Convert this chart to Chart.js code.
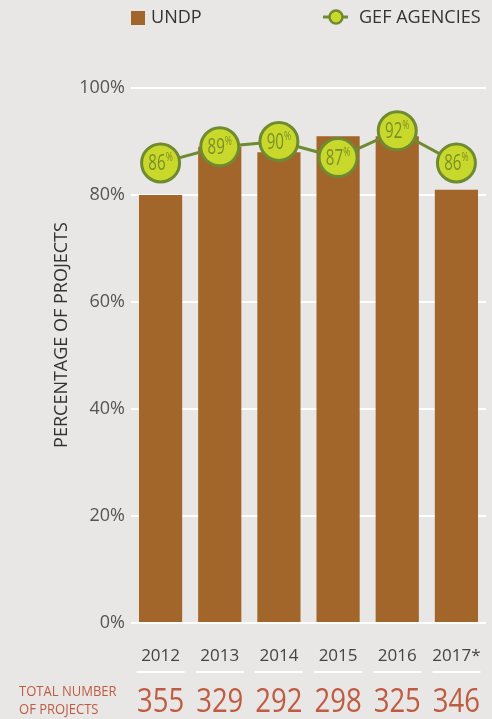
<!DOCTYPE html>
<html>
<head>
<meta charset="utf-8">
<script src="https://cdn.jsdelivr.net/npm/chart.js@4"></script>
<style>
  html, body { margin: 0; padding: 0; background: #e8e7e6; overflow: hidden; }
  #wrap { width: 492px; height: 719px; position: relative; }
  canvas { display: block; }
</style>
</head>
<body>
<div id="wrap"><canvas id="myChart"></canvas></div>
<script>
// Data

const years = ["2012", "2013", "2014", "2015", "2016", "2017*"];
const undpShare = [80, 89, 88, 91, 91, 81];
const gefShare = [86, 89, 90, 87, 92, 86];
const totalProjects = [355, 329, 292, 298, 325, 346];

const FONT = "'Open Sans', 'Noto Sans', sans-serif";
const BROWN = "#a2662a";
const LIME = "#c9d92b";
const OLIVE = "#6f8a30";
const RUST = "#bf5b40";

// draw text squeezed horizontally (the source face is narrower than Open Sans)
function narrowText(ctx, txt, x, y, sx) {
    ctx.save();
    ctx.translate(x, y);
    ctx.scale(sx, 1);
    ctx.fillText(txt, 0, 0);
    ctx.restore();
}

// Legend, axis title, bubble labels and the totals row

const extras = {
    id: "extras",
    afterDatasetsDraw(chart) {
        const ctx = chart.ctx;
        const meta = chart.getDatasetMeta(1);
        ctx.save();
        meta.data.forEach((pt, i) => {
            const txt = String(gefShare[i]);
            ctx.save();
            ctx.translate(pt.x, pt.y);
            ctx.scale(0.72, 1);
            ctx.fillStyle = "#7c8f27";
            ctx.font = `21px ${FONT}`;
            ctx.textBaseline = "alphabetic";
            ctx.textAlign = "left";
            const w = ctx.measureText(txt).width;
            ctx.font = `12px ${FONT}`;
            const pw = ctx.measureText("%").width;
            const x0 = -(w + pw) / 2;
            ctx.font = `21px ${FONT}`;
            ctx.fillText(txt, x0, 7.5);
            ctx.font = `12px ${FONT}`;
            ctx.fillText("%", x0 + w, -2);
            ctx.restore();
        });
        ctx.restore();
    },
    afterDraw(chart) {
        const ctx = chart.ctx;
        const x = chart.scales.x;
        ctx.save();

        // legend
        ctx.fillStyle = BROWN;
        ctx.fillRect(131, 11, 14, 14);
        ctx.fillStyle = "#333";
        ctx.font = `19px ${FONT}`;
        ctx.textBaseline = "middle";
        ctx.textAlign = "left";
        narrowText(ctx, "UNDP", 151, 18, 0.95);
        ctx.strokeStyle = OLIVE;
        ctx.lineWidth = 3;
        ctx.beginPath();
        ctx.moveTo(323, 17);
        ctx.lineTo(348, 17);
        ctx.stroke();
        ctx.beginPath();
        ctx.arc(336, 17, 6.5, 0, Math.PI * 2);
        ctx.fillStyle = LIME;
        ctx.fill();
        ctx.lineWidth = 2.5;
        ctx.stroke();
        ctx.fillStyle = "#333";
        narrowText(ctx, "GEF AGENCIES", 359, 18, 0.95);

        // y axis title
        ctx.save();
        ctx.translate(62, 335);
        ctx.rotate(-Math.PI / 2);
        ctx.textAlign = "center";
        ctx.fillStyle = "#333";
        ctx.font = `18px ${FONT}`;
        ctx.fillText("PERCENTAGE OF PROJECTS", 0, 0);
        ctx.restore();

        // separators under the year labels and the totals row
        ctx.strokeStyle = "#ffffff";
        ctx.lineWidth = 2;
        years.forEach((y, i) => {
            const cx = x.getPixelForValue(i);
            ctx.beginPath();
            ctx.moveTo(cx - 24, 672);
            ctx.lineTo(cx + 24, 672);
            ctx.stroke();
        });

        ctx.fillStyle = RUST;
        ctx.textBaseline = "alphabetic";
        ctx.textAlign = "left";
        ctx.font = `14px ${FONT}`;
        narrowText(ctx, "TOTAL NUMBER", 19, 696, 0.93);
        narrowText(ctx, "OF PROJECTS", 19, 714, 0.93);

        ctx.textAlign = "center";
        ctx.font = `32px ${FONT}`;
        totalProjects.forEach((n, i) => {
            narrowText(ctx, String(n), x.getPixelForValue(i), 712, 0.86);
        });
        ctx.restore();
    }
};

// Setup

const data = {
    labels: years,
    datasets: [
        {
            type: "bar",
            label: "UNDP",
            data: undpShare,
            backgroundColor: BROWN,
            barPercentage: 0.73,
            categoryPercentage: 1,
            order: 2
        },
        {
            type: "line",
            label: "GEF AGENCIES",
            data: gefShare,
            borderColor: OLIVE,
            borderWidth: 3,
            pointRadius: 19,
            pointHoverRadius: 19,
            pointBackgroundColor: LIME,
            pointBorderColor: OLIVE,
            pointBorderWidth: 3,
            tension: 0,
            clip: false,
            order: 1
        }
    ]
};

// Config

const config = {
    data,
    options: {
        responsive: true,
        maintainAspectRatio: false,
        animation: false,
        layout: {
            autoPadding: false,
            padding: { top: 88, right: 6, left: 0, bottom: 0 }
        },
        plugins: {
            legend: { display: false },
            tooltip: { enabled: false }
        },
        scales: {
            x: {
                grid: { display: false },
                border: { display: false },
                ticks: {
                    color: "#444",
                    font: { family: FONT, size: 17 },
                    padding: 15,
                    maxRotation: 0,
                    minRotation: 0,
                    autoSkip: false
                },
                afterFit(scale) {
                    scale.height = 96;
                    scale.paddingLeft = 0;
                    scale.paddingRight = 0;
                }
            },
            y: {
                min: 0,
                max: 100,
                border: { display: false },
                grid: {
                    color: "#ffffff",
                    lineWidth: 2,
                    drawTicks: false
                },
                ticks: {
                    stepSize: 20,
                    color: "#555",
                    padding: 6,
                    font: { family: FONT, size: 18 },
                    callback: (v) => v + "%"
                },
                afterFit(scale) {
                    scale.width = 131;
                    scale.paddingTop = 0;
                    scale.paddingBottom = 0;
                }
            }
        }
    },
    plugins: [extras]
};

// Render init block

const myChart = new Chart(document.getElementById("myChart"), config);
</script>
</body>
</html>
